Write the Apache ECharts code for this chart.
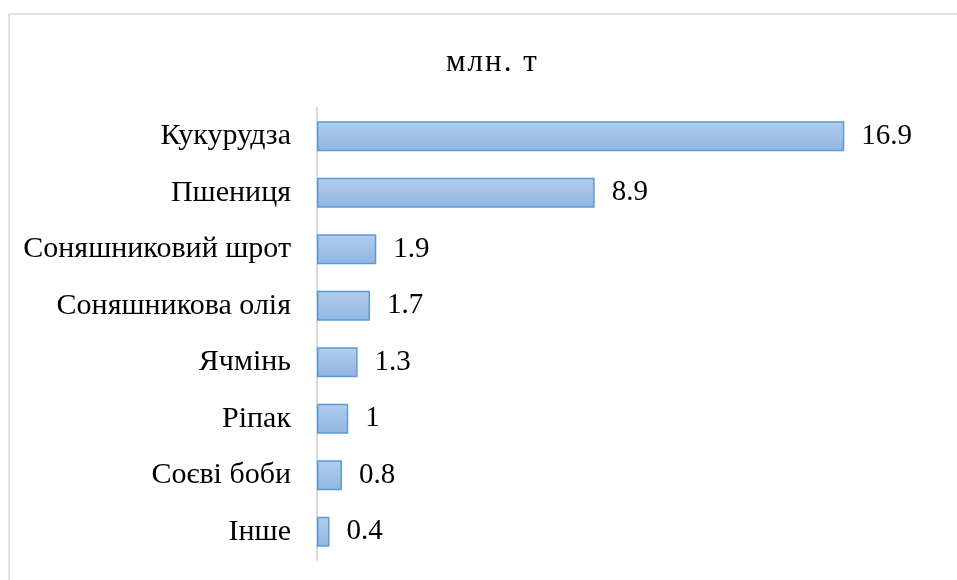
<!DOCTYPE html>
<html>
<head>
<meta charset="utf-8">
<script src="https://cdn.jsdelivr.net/npm/echarts@6/dist/echarts.min.js"></script>
<style>
  html, body { margin: 0; padding: 0; background: #fff; overflow: hidden; }
  #chart { width: 957px; height: 580px; }
</style>
</head>
<body>
<div id="chart"></div>
<script>
// дані
const categories = ['Кукурудза', 'Пшениця', 'Соняшниковий шрот', 'Соняшникова олія', 'Ячмінь', 'Ріпак', 'Соєві боби', 'Інше'];
const values = [16.9, 8.9, 1.9, 1.7, 1.3, 1, 0.8, 0.4];
const titleText = 'млн. т';

const serif = '"Liberation Serif", "DejaVu Serif", serif';

// розрядка для заголовка (canvas letterSpacing)
const origFillText = CanvasRenderingContext2D.prototype.fillText;
CanvasRenderingContext2D.prototype.fillText = function (text, x, y, maxW) {
  if (text === titleText && 'letterSpacing' in this) {
    const prev = this.letterSpacing;
    this.letterSpacing = '2px';
    const r = maxW === undefined ? origFillText.call(this, text, x, y) : origFillText.call(this, text, x, y, maxW);
    this.letterSpacing = prev;
    return r;
  }
  return maxW === undefined ? origFillText.call(this, text, x, y) : origFillText.call(this, text, x, y, maxW);
};

const chart = echarts.init(document.getElementById('chart'), null, { renderer: 'canvas' });

chart.setOption({
  backgroundColor: '#fff',
  animation: false,
  title: {
    text: titleText,
    left: 441,
    top: 42,
    textStyle: { fontFamily: serif, fontWeight: 'normal', fontSize: 31, color: '#000' }
  },
  graphic: [{
    type: 'rect',
    shape: { x: 9, y: 14, width: 1000, height: 600 },
    style: { fill: 'none', stroke: '#d9d9d9', lineWidth: 1.5 },
    silent: true
  }],
  grid: { left: 317, right: 16, top: 108, bottom: 20 },
  xAxis: {
    type: 'value',
    min: 0,
    max: 20,
    show: false
  },
  yAxis: {
    type: 'category',
    inverse: true,
    data: categories,
    axisLine: { show: true, lineStyle: { color: '#d9d9d9', width: 2 } },
    axisTick: { show: false },
    axisLabel: { fontFamily: serif, fontSize: 30, color: '#000', margin: 26 }
  },
  series: [{
    type: 'bar',
    data: values,
    barWidth: 30,
    itemStyle: {
      color: {
        type: 'linear', x: 0, y: 0, x2: 0, y2: 1,
        colorStops: [
          { offset: 0, color: '#b3cdec' },
          { offset: 1, color: '#90b6e2' }
        ]
      },
      borderColor: '#5b9bd5',
      borderWidth: 1.5
    },
    label: {
      show: true,
      position: 'right',
      distance: 17,
      fontFamily: serif,
      fontSize: 29,
      color: '#000'
    }
  }]
});
</script>
</body>
</html>
